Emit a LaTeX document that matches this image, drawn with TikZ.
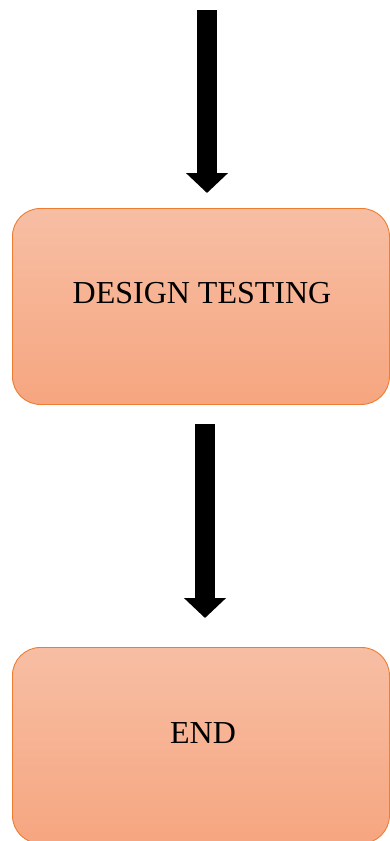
\documentclass[tikz,border=0pt]{standalone}
\usepackage{fontspec}
\setmainfont{Liberation Serif}
\usetikzlibrary{arrows.meta}
\definecolor{boxtop}{HTML}{F7BEA4}
\definecolor{boxbot}{HTML}{F6A680}
\definecolor{boxline}{HTML}{ED7D31}
\tikzset{
  flowbox/.style={draw=boxline, line width=0.9pt, rounded corners=28pt,
    top color=boxtop, bottom color=boxbot, minimum width=377pt,
    minimum height=196pt, inner sep=0pt, anchor=north west},
  lbl/.style={font=\fontsize{32}{36}\selectfont, inner sep=0pt},
  blockarrow/.style={line width=20pt, draw=black,
    -{Triangle[width=41pt,length=20pt]}}
}
\begin{document}
\begin{tikzpicture}[x=1pt,y=-1pt]
\useasboundingbox (0,0) rectangle (389,841);
\node[flowbox] (design) at (12,208) {};
\node[lbl] (designlbl) at (202,293) {DESIGN TESTING};
\node[flowbox] (endbox) at (12,647) {};
\node[lbl] (endlbl) at (203,733) {END};
\coordinate (s1) at (207,10);
\coordinate (t1) at (207,193);
\coordinate (s2) at (205,424);
\coordinate (t2) at (205,618);
\draw[blockarrow] (s1) -- (t1);
\draw[blockarrow] (s2) -- (t2);
\end{tikzpicture}
\end{document}
